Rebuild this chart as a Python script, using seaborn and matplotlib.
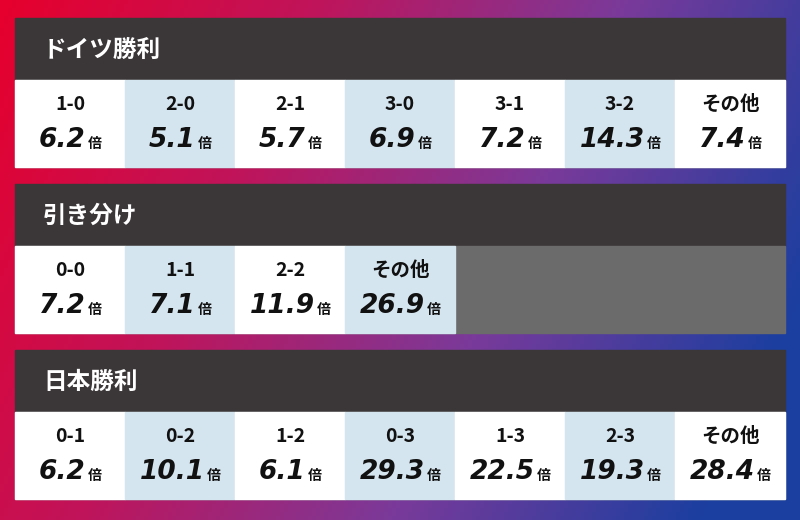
import matplotlib
matplotlib.use("Agg")
import matplotlib.pyplot as plt
import seaborn as sns
import numpy as np
from matplotlib.colors import LinearSegmentedColormap
from matplotlib.patches import Rectangle

sns.set_theme(style="white")
plt.rcParams['font.family'] = ['Noto Sans CJK JP', 'DejaVu Sans']

titles = ["ドイツ勝利", "引き分け", "日本勝利"]
scores = [["1-0", "2-0", "2-1", "3-0", "3-1", "3-2", "その他"],
          ["0-0", "1-1", "2-2", "その他"],
          ["0-1", "0-2", "1-2", "0-3", "1-3", "2-3", "その他"]]
odds = [["6.2", "5.1", "5.7", "6.9", "7.2", "14.3", "7.4"],
        ["7.2", "7.1", "11.9", "26.9"],
        ["6.2", "10.1", "6.1", "29.3", "22.5", "19.3", "28.4"]]

fig = plt.figure(figsize=(8, 5.2), dpi=100)
ax = fig.add_axes([0, 0, 1, 1])
ax.set_xlim(0, 800); ax.set_ylim(520, 0); ax.axis('off')
renderer = fig.canvas.get_renderer()

cmap = LinearSegmentedColormap.from_list("g", ["#e6002d", "#c0145a", "#7a3a9a", "#1a3fa0"])
xx, yy = np.meshgrid(np.linspace(0, 1, 200), np.linspace(0, 1, 130))
grad = np.clip(xx * 0.85 + yy * 0.25, 0, 1)
ax.imshow(grad, cmap=cmap, extent=[0, 800, 520, 0], aspect='auto', zorder=0)

x0, cw = 15, 110
tops = [18, 184, 350]
hh, ch = 62, 87
for s, top in enumerate(tops):
    ax.add_patch(Rectangle((x0, top), cw * 7, hh, color="#3b3637", zorder=1))
    ax.text(x0 + 28, top + hh / 2 + 1, titles[s], color="white", fontsize=17,
            fontweight='bold', va='center', ha='left', zorder=2)
    ax.add_patch(Rectangle((x0, top + hh), cw * 7, ch, color="#6b6b6b", zorder=1))
    for i, (sc, od) in enumerate(zip(scores[s], odds[s])):
        cx = x0 + i * cw
        col = "white" if i % 2 == 0 else "#d5e5ef"
        ax.add_patch(Rectangle((cx, top + hh), cw, ch, color=col, zorder=1))
        ax.text(cx + cw / 2, top + hh + 24, sc, ha='center', va='center',
                fontsize=14, fontweight='bold', color="#111111", zorder=2)
        t = ax.text(0, top + hh + 60, od, ha='left', va='center',
                    fontsize=19, fontweight='heavy', fontstyle='italic',
                    family=['DejaVu Sans'], color="#111111", zorder=2)
        k = ax.text(0, top + hh + 64, "倍", ha='left', va='center',
                    fontsize=10, fontweight='bold', color="#111111", zorder=2)
        wn = t.get_window_extent(renderer).width
        wk = k.get_window_extent(renderer).width
        start = cx + cw / 2 - (wn + wk + 2) / 2
        t.set_x(start)
        k.set_x(start + wn + 2)

fig.savefig("out.png", dpi=100)
